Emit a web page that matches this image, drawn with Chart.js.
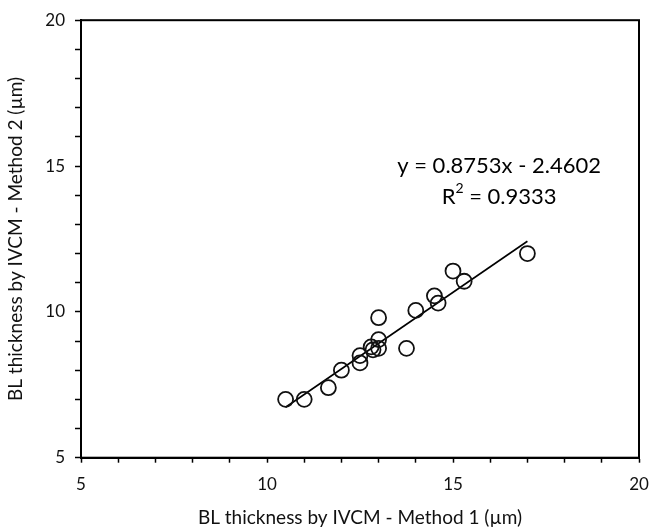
<!DOCTYPE html>
<html>
<head>
<meta charset="utf-8">
<script src="https://cdn.jsdelivr.net/npm/chart.js@4"></script>
<style>
  html, body { margin: 0; padding: 0; background: #fff; }
  #wrap { width: 662px; height: 531px; }
</style>
</head>
<body>
<div id="wrap"><canvas id="chart"></canvas></div>
<script>
/* ---------------- DATA ---------------- */

const method1 = [10.5, 11.0, 11.65, 12.0, 12.5, 12.5, 12.8, 12.85, 13.0, 13.0, 13.0, 13.75, 14.0, 14.5, 14.6, 15.0, 15.3, 17.0];
const method2 = [7.0, 7.0, 7.4, 8.0, 8.5, 8.25, 8.8, 8.7, 9.05, 8.75, 9.8, 8.75, 10.05, 10.55, 10.3, 11.4, 11.05, 12.0];

// trendline end points (x from 10.5 to 17)
const trendX = [10.5, 17.0];
const trendY = [6.73, 12.42];

const equationText = "y = 0.8753x - 2.4602";
const rSquaredText = "0.9333";

const xTitle = "BL thickness by IVCM - Method 1 (\u00b5m)";
const yTitle = "BL thickness by IVCM - Method 2 (\u00b5m)";

const FONT = "Lato, 'Open Sans', sans-serif";

/* ---------------- PLUGINS ---------------- */

const frameBox = {
  id: "frameBox",
  afterDraw(chart) {
    const { ctx, chartArea: a } = chart;
    ctx.save();
    ctx.strokeStyle = "#000";
    ctx.lineWidth = 2;
    ctx.strokeRect(a.left, a.top, a.right - a.left, a.bottom - a.top);
    ctx.restore();
  },
};

const equation = {
  id: "equation",
  afterDraw(chart) {
    const { ctx, scales } = chart;
    const cx = scales.x.getPixelForValue(16.24);
    const y1 = scales.y.getPixelForValue(15.02);
    const y2 = scales.y.getPixelForValue(13.93);

    ctx.save();
    ctx.fillStyle = "#000";
    ctx.textBaseline = "middle";
    ctx.font = "22px " + FONT;
    ctx.textAlign = "center";
    ctx.fillText(equationText, cx, y1);

    // R² line, drawn in pieces for the superscript
    const rest = " = " + rSquaredText;
    const wR = ctx.measureText("R").width;
    ctx.font = "14px " + FONT;
    const w2 = ctx.measureText("2").width;
    ctx.font = "22px " + FONT;
    const wRest = ctx.measureText(rest).width;
    let x = cx - (wR + w2 + wRest) / 2;
    ctx.textAlign = "left";
    ctx.fillText("R", x, y2);
    ctx.font = "14px " + FONT;
    ctx.fillText("2", x + wR, y2 - 9);
    ctx.font = "22px " + FONT;
    ctx.fillText(rest, x + wR + w2, y2);
    ctx.restore();
  },
};

/* ---------------- CHART ---------------- */

const points = method1.map((v, i) => ({ x: v, y: method2[i] }));
const trend = trendX.map((v, i) => ({ x: v, y: trendY[i] }));

function majorOnly(value) {
  return value % 5 === 0 ? value : "";
}

const ctx = document.getElementById("chart").getContext("2d");

new Chart(ctx, {
  type: "scatter",
  data: {
    datasets: [
      {
        label: "Method comparison",
        data: points,
        pointStyle: "circle",
        pointRadius: 7.5,
        pointBorderWidth: 1.8,
        borderColor: "#111",
        backgroundColor: "rgba(0,0,0,0)",
      },
      {
        label: "Linear fit",
        data: trend,
        showLine: true,
        pointRadius: 0,
        borderWidth: 1.6,
        borderColor: "#000",
      },
    ],
  },
  options: {
    responsive: true,
    maintainAspectRatio: false,
    animation: false,
    layout: { padding: { top: 19.5, right: 23, left: 0, bottom: 0 } },
    plugins: {
      legend: { display: false },
      tooltip: { enabled: false },
    },
    scales: {
      x: {
        type: "linear",
        min: 5,
        max: 20,
        afterFit(scale) { scale.height = 73.3; },
        ticks: {
          stepSize: 1,
          autoSkip: false,
          maxRotation: 0,
          padding: 12,
          color: "#111",
          font: { family: FONT, size: 17 },
          callback: majorOnly,
        },
        grid: {
          drawOnChartArea: false,
          drawTicks: true,
          tickLength: 5,
          tickColor: "#000",
          tickWidth: 1.5,
        },
        border: { color: "#000", width: 2 },
        title: {
          display: true,
          text: xTitle,
          color: "#111",
          font: { family: FONT, size: 19 },
          padding: { top: 0, bottom: 2 },
        },
      },
      y: {
        type: "linear",
        min: 5,
        max: 20,
        afterFit(scale) { scale.width = 81; },
        ticks: {
          stepSize: 1,
          autoSkip: false,
          padding: 10,
          color: "#111",
          font: { family: FONT, size: 17 },
          callback: majorOnly,
        },
        grid: {
          drawOnChartArea: false,
          drawTicks: true,
          tickLength: 6,
          tickColor: "#000",
          tickWidth: 1.5,
        },
        border: { color: "#000", width: 2 },
        title: {
          display: true,
          text: yTitle,
          color: "#111",
          font: { family: FONT, size: 19 },
          padding: { top: 4, bottom: 0 },
        },
      },
    },
  },
  plugins: [frameBox, equation],
});
</script>
</body>
</html>
